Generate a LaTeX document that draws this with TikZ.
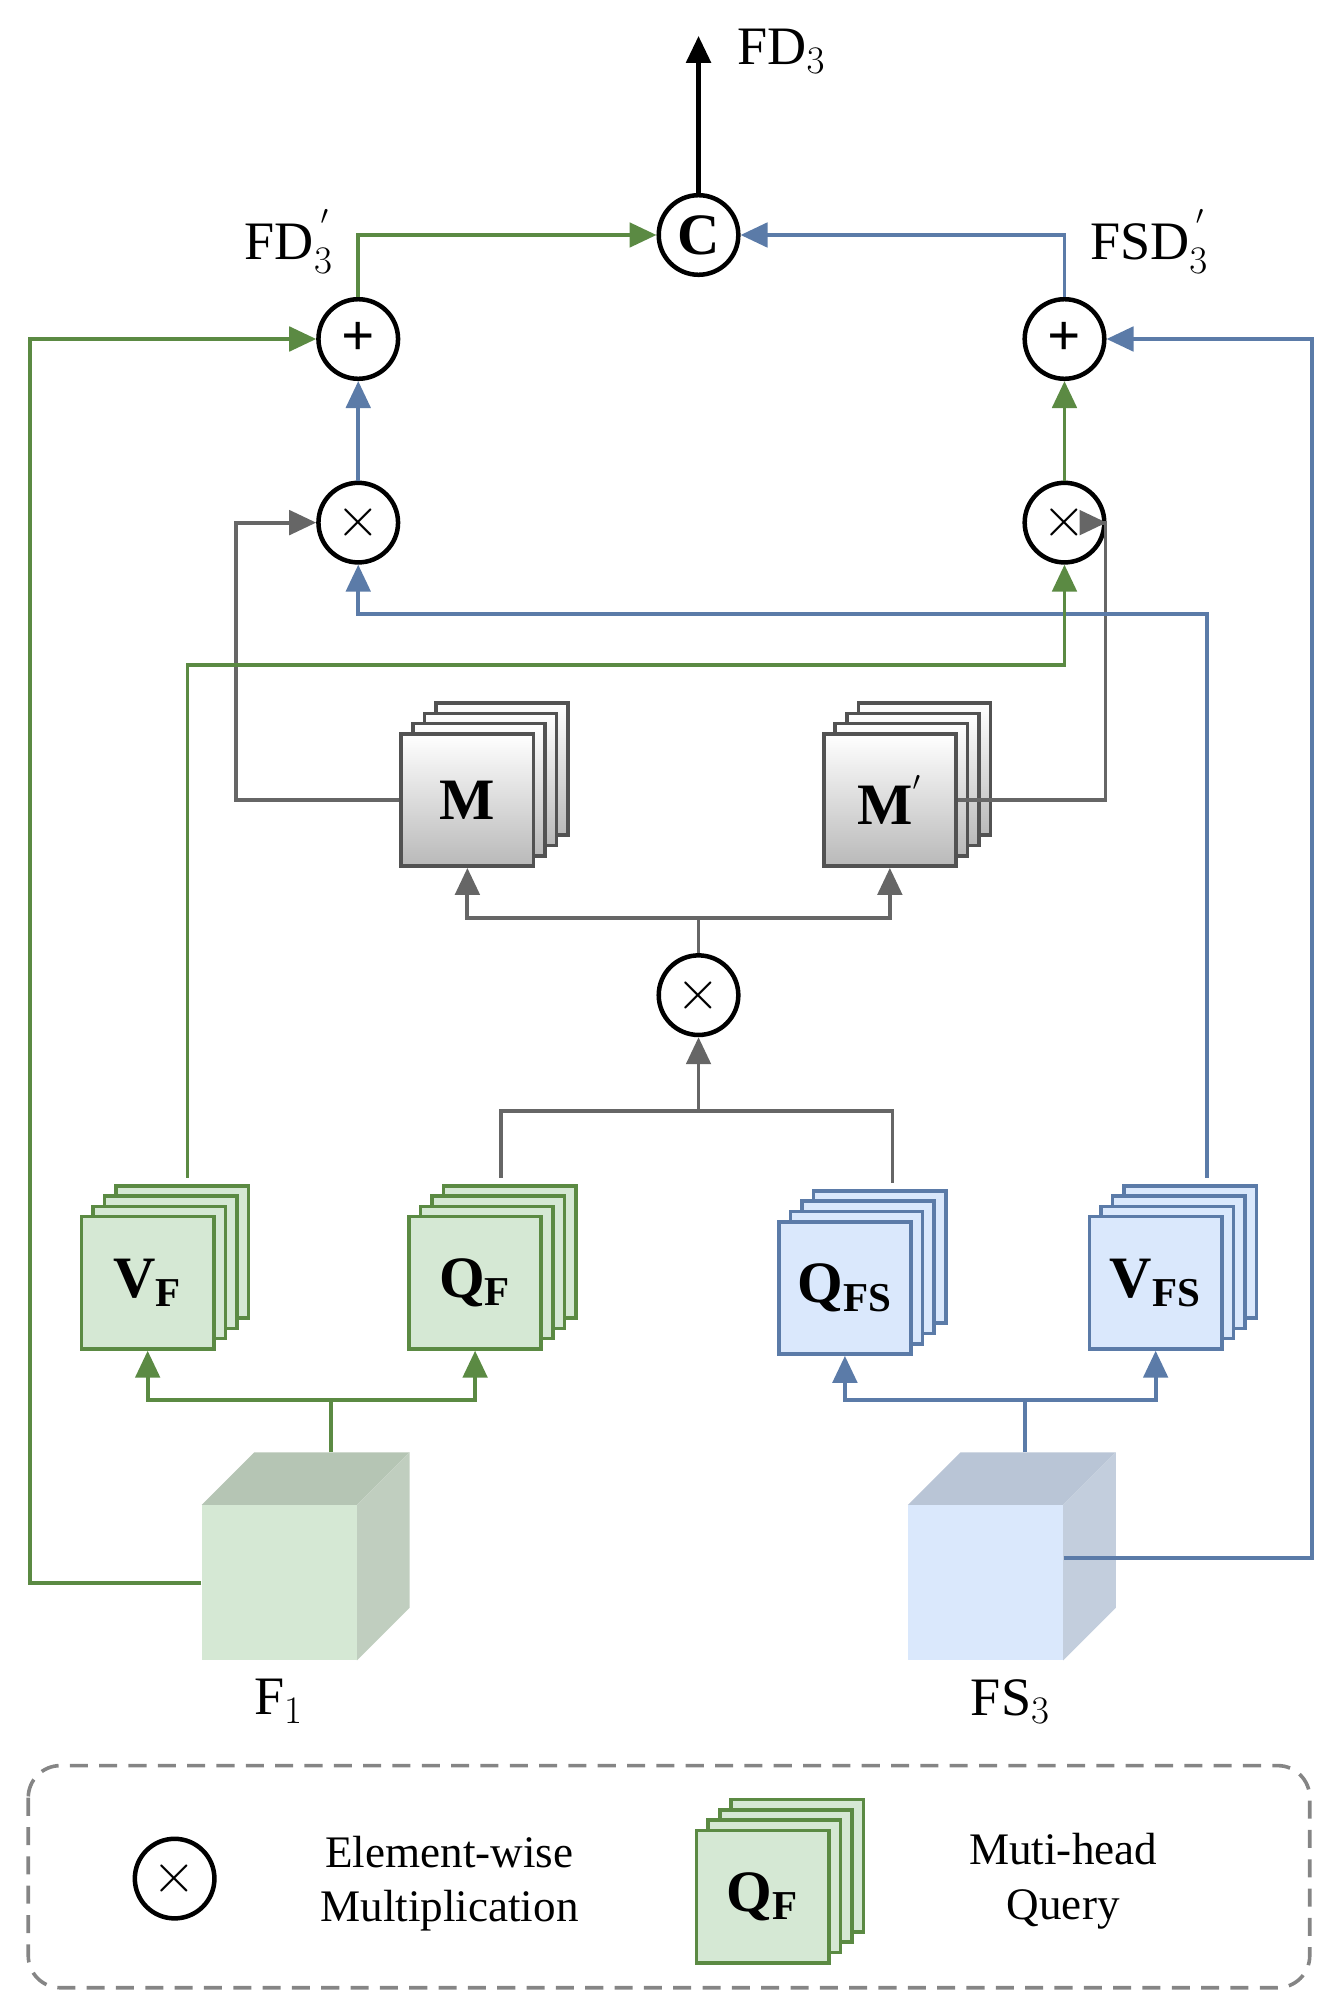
\documentclass[tikz,border=0pt]{standalone}
\usepackage{fontspec}
\setmainfont{Liberation Serif}
\usetikzlibrary{arrows.meta, shapes.geometric}
\definecolor{fgreen}{HTML}{5B8A43}
\definecolor{fblue}{HTML}{5B7BA8}
\definecolor{fgray}{HTML}{666666}
\definecolor{lgreen}{HTML}{D5E8D4}
\definecolor{lblue}{HTML}{DAE8FC}
\tikzset{
  op/.style={draw=black, circle, line width=2pt, fill=white, minimum size=1.24cm, inner sep=0pt, font=\fontsize{26}{26}\selectfont\bfseries},
  gline/.style={draw=fgreen, line width=1.7pt},
  bline/.style={draw=fblue, line width=1.7pt},
  kline/.style={draw=fgray, line width=1.7pt},
  tip/.style={-{Triangle[length=0.42cm, width=0.38cm]}},
  sq/.style={rectangle, line width=1.6pt, minimum size=2.06cm, inner sep=0pt, font=\fontsize{26}{26}\selectfont\bfseries},
  gsq/.style={sq, draw=fgreen, fill=lgreen},
  bsq/.style={sq, draw=fblue, fill=lblue},
  msq/.style={sq, draw=fgray!80!black, top color=white, bottom color=gray!55},
  lbl/.style={font=\fontsize{24}{24}\selectfont},
}
% stack of four squares, front one named
\newcommand{\stack}[5]{%
  \foreach \k in {3,2,1}
    \node[#4] at ($(#2,#3)+(\k*9,-\k*8)$) {};
  \node[#4] (#1) at (#2,#3) {#5};
}
\usetikzlibrary{calc}
\begin{document}
\begin{tikzpicture}[x=0.02cm, y=-0.02cm]
	\useasboundingbox (0,0) rectangle (1045,1556);
	
	% operators
	\node[op] (cat) at (544,183) {C};
	\node[op] (addl) at (279,264) {+};
	\node[op] (addr) at (829,264) {+};
	\node[op] (mull) at (279,407) {$\times$};
	\node[op] (mulr) at (829,407) {$\times$};
	\node[op] (mulm) at (544,775) {$\times$};
	\coordinate (out) at (544,28);
	
	% cubes
	\fill[lgreen!85!black] (157,1172) -- (198,1131) -- (319,1131) -- (278,1172) -- cycle;
	\fill[lgreen!75!gray] (278,1172) -- (319,1131) -- (319,1252) -- (278,1293) -- cycle;
	\node[fill=lgreen, minimum size=2.42cm, inner sep=0pt] (f1) at (217.5,1232.5) {};
	\fill[lblue!85!black] (707,1172) -- (748,1131) -- (869,1131) -- (828,1172) -- cycle;
	\fill[lblue!75!gray] (828,1172) -- (869,1131) -- (869,1252) -- (828,1293) -- cycle;
	\node[fill=lblue, minimum size=2.42cm, inner sep=0pt] (fs3) at (767.5,1232.5) {};
	\node[lbl] at (217,1325) {F$_1$};
	\node[lbl] at (787,1325) {FS$_3$};
	
	% stacks
	\stack{vf}{115}{999}{gsq}{V$_{\mathbf{F}}$}
	\stack{qf}{370}{999}{gsq}{Q$_{\mathbf{F}}$}
	\stack{qfs}{658}{1003}{bsq}{Q$_{\mathbf{FS}}$}
	\stack{vfs}{900}{999}{bsq}{V$_{\mathbf{FS}}$}
	\stack{m}{364}{623}{msq}{M}
	\stack{mp}{693}{623}{msq}{M$^{'}$}
	
	% connections
	\draw[line width=2pt, tip] (cat) -- (out);
	\node[lbl, anchor=west] at (568,40) {FD$_3$};
	\node[lbl] at (225,188) {FD$_3^{\,'}$};
	\node[lbl] at (895,188) {FSD$_3^{\,'}$};
	\draw[gline, tip] (addl.north) |- (cat);
	\draw[bline, tip] (addr.north) |- (cat);
	\draw[bline, tip] (mull) -- (addl);
	\draw[gline, tip] (mulr) -- (addr);
	\draw[gline, tip] (f1.west) -- ++(-133,0) |- (addl);
	\draw[bline, tip] (fs3.east |- 0,1213) -- (1022,1213) |- (addr);
	\draw[kline, tip] (m.west) -- ++(-127,0) |- (mull);
	\draw[kline, tip] (mp.east) -- ++(115,0) |- (mulr);
	\draw[bline, tip] (vfs.north -| 940,0) ++(0,-86) |- (279,478) -- (mull.south);
	\draw[bline] (940,917) -- (940,478);
	\draw[gline, tip] (146,917) |- (829,518) -- (mulr.south);
	\draw[kline, tip] (mulm) -- (544,715) -| (m.south);
	\draw[kline, tip] (544,715) -| (mp.south);
	\draw[kline] (390,917) |- (695,865) -- (695,921);
	\draw[kline, tip] (544,865) -- (mulm);
	\draw[gline, tip] (258,1131) -- (258,1090) -| (vf.south);
	\draw[gline, tip] (258,1090) -| (qf.south);
	\draw[bline, tip] (798,1131) -- (798,1090) -| (qfs.south);
	\draw[bline, tip] (798,1090) -| (vfs.south);
	
	% legend
	\draw[fgray!80, line width=1.6pt, dash pattern=on 8pt off 5pt, rounded corners=0.5cm] (22,1375) rectangle (1020,1548);
	\node[op] (lmul) at (136,1463) {$\times$};
	\node[lbl, align=center, font=\fontsize{20}{24}\selectfont] (ltxt) at (350,1467) {Element-wise\\Multiplication};
	\stack{lq}{594}{1477}{gsq}{Q$_{\mathbf{F}}$}
	\node[lbl, align=center, font=\fontsize{20}{24}\selectfont] (ltxt2) at (828,1465) {Muti-head\\Query};
\end{tikzpicture}
\end{document}
